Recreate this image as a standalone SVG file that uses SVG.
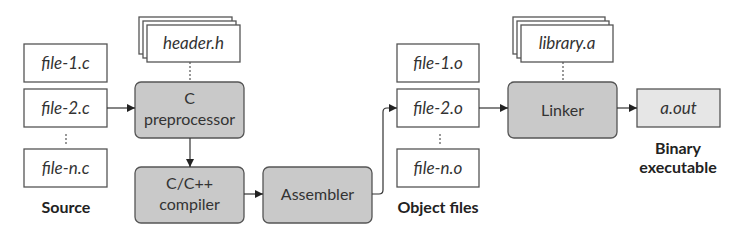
<svg xmlns="http://www.w3.org/2000/svg" width="735" height="245" viewBox="0 0 735 245">
  <defs>
    <marker id="arrow" viewBox="0 0 10 10" refX="10" refY="5" markerWidth="8" markerHeight="8" markerUnits="userSpaceOnUse" orient="auto">
      <path d="M0,0 L10,5 L0,10 Z" fill="#222"/>
    </marker>
    <style>
      .file { fill: #ffffff; stroke: #555; stroke-width: 1.3; }
      .proc { fill: #c9c9c9; stroke: #555; stroke-width: 1.3; }
      .out { fill: #e6e6e6; stroke: #555; stroke-width: 1.3; }
      .fname { font-family: Lato, "Open Sans", sans-serif; font-style: italic; font-size: 17px; fill: #333; text-anchor: middle; }
      .ptext { font-family: Lato, "Open Sans", sans-serif; font-size: 16px; fill: #333; text-anchor: middle; }
      .label { font-family: Lato, "Open Sans", sans-serif; font-weight: bold; font-size: 16px; fill: #222; text-anchor: middle; }
      .conn { fill: none; stroke: #333; stroke-width: 1.2; }
      .dots { fill: none; stroke: #555; stroke-width: 1.2; stroke-dasharray: 2 2; }
    </style>
  </defs>

  <!-- source files -->
  <g id="file-1-c">
    <rect class="file" x="24" y="44" width="83" height="38"/>
    <text class="fname" x="65.5" y="69">file-1.c</text>
  </g>
  <g id="file-2-c">
    <rect class="file" x="24" y="89" width="83" height="38"/>
    <text class="fname" x="65.5" y="114">file-2.c</text>
  </g>
  <g id="file-n-c">
    <rect class="file" x="24" y="149" width="83" height="38"/>
    <text class="fname" x="65.5" y="174">file-n.c</text>
  </g>
  <g id="source-label">
    <text class="label" x="66" y="213">Source</text>
  </g>

  <!-- header stack -->
  <g id="header-h">
    <rect class="file" x="139" y="17" width="93" height="37"/>
    <rect class="file" x="143" y="21" width="93" height="37"/>
    <rect class="file" x="147" y="25" width="93" height="37"/>
    <text class="fname" x="193.5" y="49">header.h</text>
  </g>

  <!-- C preprocessor -->
  <g id="preprocessor">
    <rect class="proc" x="135" y="82" width="109" height="56" rx="6"/>
    <text class="ptext" x="189.5" y="104">C</text>
    <text class="ptext" x="189.5" y="125">preprocessor</text>
  </g>

  <!-- C/C++ compiler -->
  <g id="compiler">
    <rect class="proc" x="135" y="167" width="109" height="56" rx="6"/>
    <text class="ptext" x="189.5" y="189">C/C++</text>
    <text class="ptext" x="189.5" y="210">compiler</text>
  </g>

  <!-- Assembler -->
  <g id="assembler">
    <rect class="proc" x="263" y="167" width="109" height="56" rx="6"/>
    <text class="ptext" x="317.5" y="200">Assembler</text>
  </g>

  <!-- object files -->
  <g id="file-1-o">
    <rect class="file" x="397" y="44" width="82" height="38"/>
    <text class="fname" x="438" y="69">file-1.o</text>
  </g>
  <g id="file-2-o">
    <rect class="file" x="397" y="89" width="82" height="38"/>
    <text class="fname" x="438" y="114">file-2.o</text>
  </g>
  <g id="file-n-o">
    <rect class="file" x="397" y="149" width="82" height="38"/>
    <text class="fname" x="438" y="174">file-n.o</text>
  </g>
  <g id="object-label">
    <text class="label" x="438" y="213">Object files</text>
  </g>

  <!-- library stack -->
  <g id="library-a">
    <rect class="file" x="513" y="17" width="92" height="37"/>
    <rect class="file" x="517" y="21" width="92" height="37"/>
    <rect class="file" x="521" y="25" width="92" height="37"/>
    <text class="fname" x="567" y="49">library.a</text>
  </g>

  <!-- Linker -->
  <g id="linker">
    <rect class="proc" x="508" y="82" width="109" height="56" rx="6"/>
    <text class="ptext" x="562.5" y="116">Linker</text>
  </g>

  <!-- output -->
  <g id="a-out">
    <rect class="out" x="637" y="89" width="83" height="38"/>
    <text class="fname" x="678.5" y="114">a.out</text>
  </g>
  <g id="binary-label">
    <text class="label" x="678" y="154">Binary</text>
    <text class="label" x="678" y="173">executable</text>
  </g>

  <!-- connectors -->
  <g id="connectors">
    <path class="dots" d="M66,134 V146"/>
    <path class="dots" d="M440,134 V146"/>
    <path class="dots" d="M190,62 V82" stroke-dasharray="3 3"/>
    <path class="dots" d="M563,62 V82" stroke-dasharray="3 3"/>
    <path class="conn" d="M107,108 H135" marker-end="url(#arrow)"/>
    <path class="conn" d="M190,138 V167" marker-end="url(#arrow)"/>
    <path class="conn" d="M244,194 H263" marker-end="url(#arrow)"/>
    <path class="conn" d="M372,194 H379 Q383,194 383,190 V112 Q383,108 387,108 H397" marker-end="url(#arrow)"/>
    <path class="conn" d="M479,108 H508" marker-end="url(#arrow)"/>
    <path class="conn" d="M617,108 H637" marker-end="url(#arrow)"/>
  </g>
</svg>
